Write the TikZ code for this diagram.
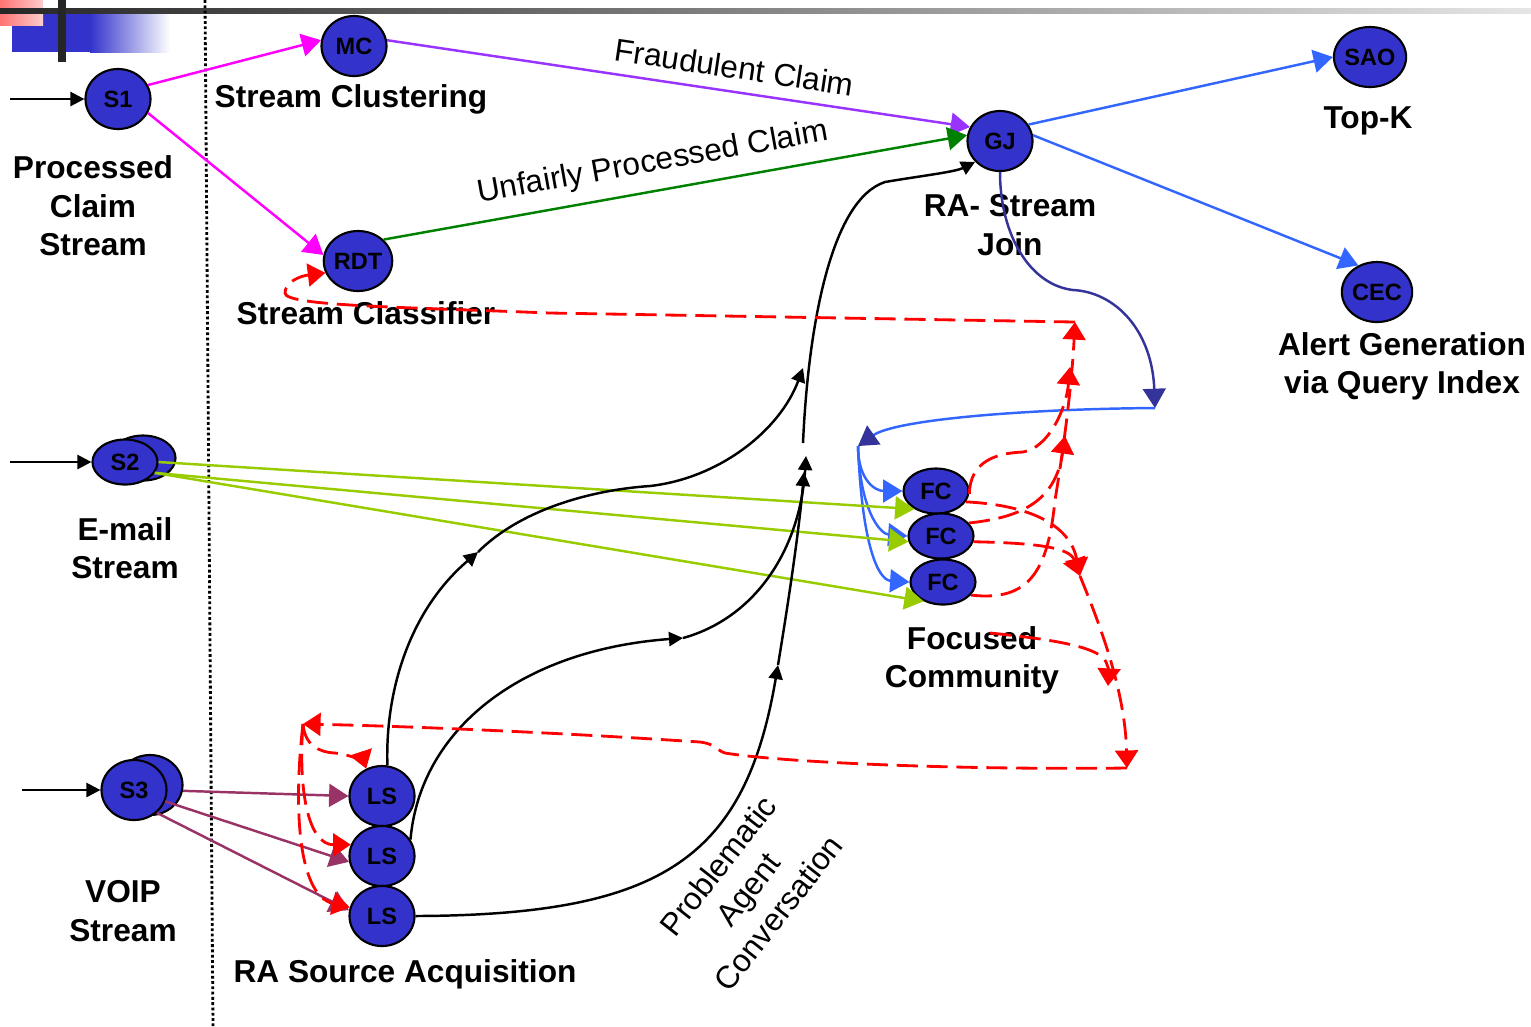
\documentclass[tikz,border=0pt]{standalone}
\usepackage{fontspec}
\setmainfont{Liberation Sans}
\usetikzlibrary{shapes.geometric, arrows.meta, positioning, calc}

\definecolor{procblue}{RGB}{51,51,204}
\definecolor{streampink}{RGB}{255,0,255}
\definecolor{claimviolet}{RGB}{153,51,255}
\definecolor{joingreen}{RGB}{0,128,0}
\definecolor{outblue}{RGB}{51,102,255}
\definecolor{navyblue}{RGB}{51,51,153}
\definecolor{mailgreen}{RGB}{153,204,0}
\definecolor{voipplum}{RGB}{153,51,102}

\begin{document}
\begin{tikzpicture}[
    x=0.01cm, y=-0.01cm,
    proc/.style = {draw, ellipse, line width=0.6pt, fill=procblue, inner sep=0pt, minimum width=0.65cm, minimum height=0.6cm, font=\fontsize{6.7}{8}\selectfont\bfseries},
    flat/.style = {proc, minimum height=0.45cm},
    blocktext/.style = {align=center, font=\fontsize{9}{10.9}\selectfont\bfseries},
    edgetext/.style = {align=center, text=black, font=\fontsize{9}{10.9}\selectfont},
    line/.style = {-{Triangle[length=5.5pt, width=6.5pt]}, line width=0.7pt},
    flow/.style = {-{Triangle[length=4pt, width=4pt]}, line width=0.7pt},
    feedback/.style = {-{Triangle[length=5pt, width=6.5pt]}, red, line width=0.8pt, dash pattern=on 6pt off 2.5pt}
]
    \useasboundingbox (0,0) rectangle (1531,1026);

    % Slide header
    \fill[procblue] (12,13) rectangle (90,52);
    \shade[left color=procblue, right color=white] (90,13) rectangle (170,52);
    \shade[left color=red!55, right color=red!20] (0,0) rectangle (43,25);
    \shade[left color=black!85, right color=black!10] (0,8) rectangle (1531,13);
    \fill[black!85] (58,0) rectangle (66,62);
    \draw[line width=0.8pt, dash pattern=on 0.8pt off 0.7pt] (205,0) -- (213,1026);

    % Nodes
    \node[proc] (s1) at (118,99) {S1};
    \node[proc] (mc) at (354,46) {MC};
    \node[proc] (rdt) at (358,261) {RDT};
    \node[proc] (gj) at (1000,141) {GJ};
    \node[proc] (sao) at (1370,57) {SAO};
    \node[proc] (cec) at (1377,292) {CEC};
    \node[flat] (s2b) at (143,458) {};
    \node[flat] (s2) at (125,462) {S2};
    \node[proc] (s3b) at (150,785) {};
    \node[proc] (s3) at (134,790) {S3};
    \node[proc] (ls1) at (382,796) {LS};
    \node[proc] (ls2) at (382,856) {LS};
    \node[proc] (ls3) at (382,916) {LS};
    \node[flat] (fc1) at (936,491) {FC};
    \node[flat] (fc2) at (941,536) {FC};
    \node[flat] (fc3) at (943,582) {FC};

    % Labels
    \node[blocktext] (s1text) at (93,206) {Processed\\Claim\\Stream};
    \node[blocktext] (mctext) at (351,99) {Stream Clustering};
    \node[blocktext] (rdttext) at (366,313) {Stream Classifier};
    \node[blocktext] (gjtext) at (1010,225) {RA- Stream\\Join};
    \node[blocktext] (saotext) at (1368,121) {Top-K};
    \node[blocktext] (cectext) at (1402,366) {Alert Generation\\via Query Index};
    \node[blocktext] (s2text) at (125,548) {E-mail\\Stream};
    \node[blocktext] (s3text) at (123,911) {VOIP\\Stream};
    \node[blocktext] (lstext) at (405,974) {RA Source Acquisition};
    \node[blocktext] (fctext) at (972,660) {Focused\\Community};
    \node[edgetext, rotate=52] (pactext) at (748,889) {Problematic\\Agent\\Conversation};

    % Helper points
    \coordinate (in1) at (10,99);
    \coordinate (in2) at (10,462);
    \coordinate (in3) at (22,790);
    \coordinate (split) at (1155,408);
    \coordinate (fan) at (858,446);
    \coordinate (p1) at (478,552);
    \coordinate (q1) at (803,368);
    \coordinate (p2) at (683,638);
    \coordinate (q2) at (806,456);
    \coordinate (p3) at (778,665);
    \coordinate (q3) at (804,472);
    \coordinate (v0) at (803,443);
    \coordinate (r0) at (990,633);
    \coordinate (r1) at (1075,322);
    \coordinate (r2) at (1070,367);
    \coordinate (r3) at (1065,436);
    \coordinate (r4) at (1080,576);
    \coordinate (r5) at (1127,768);
    \coordinate (r6) at (1108,686);
    \coordinate (lsf) at (303,724);

    % Inputs
    \draw[flow] (in1) -- (s1.west);
    \draw[flow] (in2) -- (s2.west);
    \draw[flow] (in3) -- (s3.west);

    % Claim stream
    \draw[line, streampink] (s1.25) -- (mc.170);
    \draw[line, streampink] (s1.-25) -- (rdt.170);
    \draw[line, claimviolet] (mc.10) -- node[edgetext, sloped, above, pos=0.59] {Fraudulent Claim} (gj.155);
    \draw[line, joingreen] (rdt.40) -- node[edgetext, sloped, above, pos=0.47] {Unfairly Processed Claim} (gj.170);

    % Join outputs
    \draw[line, outblue] (gj.30) -- (sao.west);
    \draw[line, outblue] (gj.10) -- (cec.125);
    \draw[line, navyblue] (gj.south) .. controls (1000,235) and (1030,285) .. (1073,290) .. controls (1115,292) and (1152,330) .. (split);
    \draw[-{Triangle[length=5.5pt, width=6.5pt, color=navyblue]}, outblue, line width=0.7pt] (split) .. controls (1020,409) and (895,420) .. (fan);
    \draw[line, outblue] (fan) .. controls (858,480) and (875,491) .. (fc1.west);
    \draw[line, outblue] (fan) .. controls (860,510) and (880,534) .. (fc2.west);
    \draw[line, outblue] (fan) .. controls (862,545) and (878,580) .. (fc3.west);

    % E-mail stream
    \draw[line, mailgreen] (s2.east) -- (fc1.220);
    \draw[line, mailgreen] (s2.-20) -- (fc2.190);
    \draw[line, mailgreen] (s2.-20) -- (fc3.225);

    % VOIP stream
    \draw[line, voipplum] (s3b.-10) -- (ls1.west);
    \draw[line, voipplum] (s3.-20) -- (ls2.190);
    \draw[line, voipplum] (s3.-45) -- (ls3.170);

    % Source acquisition to join
    \draw[flow] (ls1.80) .. controls (385,690) and (410,610) .. (p1);
    \draw[flow] (p1) .. controls (520,510) and (590,490) .. (650,486) .. controls (720,478) and (780,430) .. (q1);
    \draw[flow] (ls2.30) .. controls (420,730) and (520,650) .. (p2);
    \draw[flow] (p2) .. controls (755,618) and (800,550) .. (q2);
    \draw[flow] (ls3.east) .. controls (660,915) and (745,860) .. (p3);
    \draw[flow] (p3) .. controls (792,580) and (800,520) .. (q3);
    \draw[flow] (v0) .. controls (808,330) and (830,200) .. (885,182) .. controls (920,176) and (955,172) .. (gj.220);

    % Feedback
    \draw[feedback] (fc3.-25) .. controls (1030,602) and (1048,570) .. (1055,500) .. controls (1065,440) and (1072,380) .. (r1);
    \draw[feedback] (r1) -- (550,313) .. controls (400,307) and (285,306) .. (285,293) .. controls (285,282) and (300,276) .. (rdt.200);
    \draw[feedback] (fc1.-5) .. controls (970,462) and (995,453) .. (1023,452) .. controls (1048,448) and (1066,410) .. (r2);
    \draw[feedback] (fc2.25) .. controls (1015,518) and (1055,505) .. (r3);
    \draw[feedback] (fc1.-20) .. controls (1030,505) and (1070,525) .. (r4);
    \draw[feedback] (fc2.-10) .. controls (1040,543) and (1070,548) .. (r4);
    \draw[feedback] (r4) .. controls (1100,625) and (1125,690) .. (r5);
    \draw[feedback] (r0) .. controls (1060,640) and (1100,648) .. (1106,662) .. controls (1109,670) .. (r6);
    \draw[feedback] (r5) .. controls (950,770) and (780,762) .. (725,753) .. controls (716,750) and (716,744) .. (700,742) .. controls (550,732) and (400,726) .. (lsf);
    \draw[feedback] (lsf) .. controls (305,745) and (318,752) .. (335,753) .. controls (355,755) and (365,765) .. (ls1.120);
    \draw[feedback] (lsf) .. controls (298,790) and (308,845) .. (ls2.160);
    \draw[feedback] (lsf) .. controls (294,800) and (296,895) .. (ls3.165);

\end{tikzpicture}
\end{document}
